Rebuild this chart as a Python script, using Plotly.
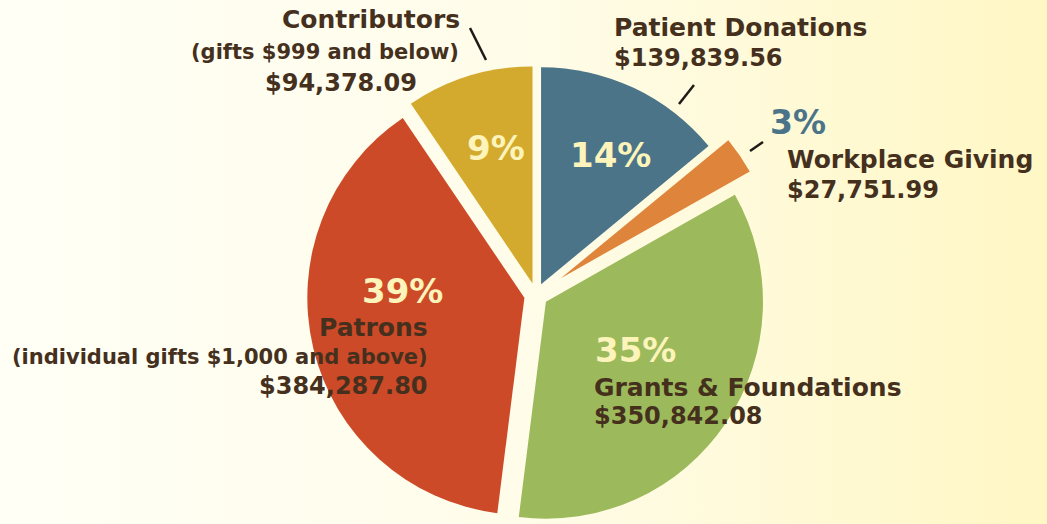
import base64
import plotly.graph_objects as go

# ---------------- data ----------------
categories = ["Patient Donations", "Workplace Giving", "Grants & Foundations", "Patrons", "Contributors"]
subtitles = ["", "", "", "(individual gifts $1,000 and above)", "(gifts $999 and below)"]
amounts = [139839.56, 27751.99, 350842.08, 384287.80, 94378.09]
colors = ["#4b7489", "#df843b", "#9cba5b", "#cc4a28", "#d3aa2d"]

W, H = 1047, 524
total = sum(amounts)
pct_text = [f"{round(a / total * 100)}%" for a in amounts]
amount_text = [f"${a:,.2f}" for a in amounts]

BROWN = "#45301e"
CREAM = "#fdf4bb"
FONT = "DejaVu Sans"

# ---------------- geometry ----------------
PULL = 0.055
CX, CY, BOX = 536, 295, 458
EXTRA_DX, EXTRA_DY = 15, -10  # extra displacement of the small slice


def dom(cx, cy):
    x = [(cx - BOX / 2) / W, (cx + BOX / 2) / W]
    y = [max(0.0, 1 - (cy + BOX / 2) / H), min(1.0, 1 - (cy - BOX / 2) / H)]
    return dict(x=x, y=y)


def px(x):
    return x / W


def py(y):
    return 1 - y / H


main_colors = [c if i != 1 else "rgba(0,0,0,0)" for i, c in enumerate(colors)]
small_colors = [c if i == 1 else "rgba(0,0,0,0)" for i, c in enumerate(colors)]

fig = go.Figure()
fig.add_trace(go.Pie(
    labels=categories, values=amounts, sort=False, direction="clockwise", rotation=0,
    marker=dict(colors=main_colors, line=dict(width=0)),
    pull=[PULL] * len(amounts), textinfo="none", hoverinfo="skip",
    domain=dom(CX, CY), showlegend=False,
))
fig.add_trace(go.Pie(
    labels=categories, values=amounts, sort=False, direction="clockwise", rotation=0,
    marker=dict(colors=small_colors, line=dict(width=0)),
    pull=[PULL] * len(amounts), textinfo="none", hoverinfo="skip",
    domain=dom(CX + EXTRA_DX, CY + EXTRA_DY), showlegend=False,
))

# ---------------- text ----------------
annotations = []


def add(text, x, y, size, anchor, color=BROWN):
    annotations.append(dict(
        text=f"<b>{text}</b>", x=px(x), y=py(y), xref="paper", yref="paper",
        xanchor=anchor, yanchor="middle", showarrow=False,
        font=dict(family=FONT, size=size, color=color),
    ))


# Patient Donations
add(categories[0], 612, 27, 25, "left")
add(amount_text[0], 612, 58, 24, "left")
add(pct_text[0], 610, 155, 34, "center", CREAM)
# Workplace Giving
add(pct_text[1], 768, 122, 33, "left", colors[0])
add(categories[1], 785, 159, 25, "left")
add(amount_text[1], 785, 190, 24, "left")
# Grants & Foundations
add(pct_text[2], 593, 350, 34, "left", CREAM)
add(categories[2], 592, 387, 25, "left")
add(amount_text[2], 592, 416, 24, "left")
# Patrons
add(pct_text[3], 402, 291, 34, "center", CREAM)
add(categories[3], 430, 327, 25, "right")
add(subtitles[3], 430, 357, 21, "right")
add(amount_text[3], 430, 386, 24, "right")
# Contributors
add(categories[4], 462, 20, 25, "right")
add(subtitles[4], 461, 52, 21, "right")
add(amount_text[4], 341, 83, 24, "center")
add(pct_text[4], 496, 148, 34, "center", CREAM)

# leader lines
leaders = [((470, 28), (486, 60)), ((694, 85), (679, 104)), ((763, 142), (750, 151))]
shapes = [dict(type="line", xref="paper", yref="paper", x0=px(a[0]), y0=py(a[1]),
               x1=px(b[0]), y1=py(b[1]), line=dict(color="#1e1a16", width=2.5))
          for a, b in leaders]

# background gradient
svg = (f'<svg xmlns="http://www.w3.org/2000/svg" width="{W}" height="{H}" preserveAspectRatio="none">'
       '<defs><linearGradient id="g" x1="0" y1="0" x2="1" y2="0">'
       '<stop offset="0" stop-color="#fffff6"/><stop offset="0.5" stop-color="#fffce9"/>'
       '<stop offset="1" stop-color="#fff7c4"/></linearGradient></defs>'
       '<rect width="100%" height="100%" fill="url(#g)"/></svg>')
bg_src = "data:image/svg+xml;base64," + base64.b64encode(svg.encode()).decode()

fig.update_layout(
    width=W, height=H, margin=dict(l=0, r=0, t=0, b=0),
    paper_bgcolor="#fffdf0", plot_bgcolor="rgba(0,0,0,0)",
    annotations=annotations, shapes=shapes, showlegend=False,
    images=[dict(source=bg_src, xref="paper", yref="paper", x=0, y=1, sizex=1, sizey=1,
                 xanchor="left", yanchor="top", sizing="stretch", layer="below")],
)

fig.write_html("out.html", config={"displayModeBar": False},
               post_script="document.body.style.margin='0';document.body.style.overflow='hidden';")
